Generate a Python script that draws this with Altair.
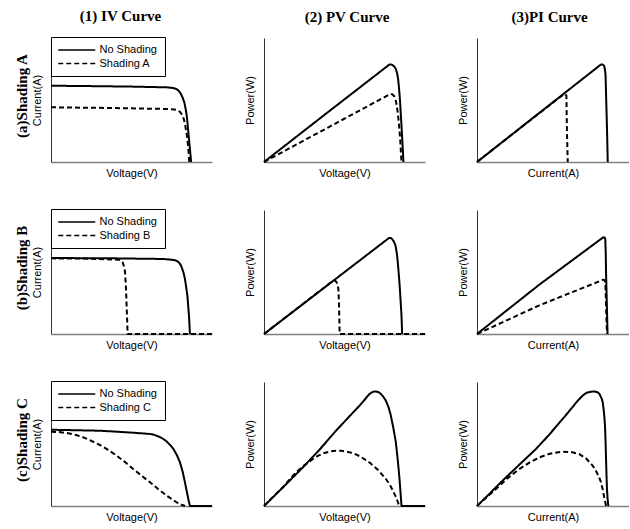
import altair as alt
import pandas as pd

# ---- data (x: 0-100 of panel width, y: 0-100 of panel height) ----
IV_A_NO = [(0, 61.5), (18, 61.3), (50, 60.8), (71.9, 60.2), (75, 59.8), (77, 59.3), (78.5, 58.4),
           (79.7, 56.8), (80.7, 54.8), (81.8, 51.8), (82.8, 48.1), (83.6, 43), (84.3, 37.4),
           (84.8, 31), (85.3, 24), (85.8, 17), (86.3, 10.5), (86.7, 5), (87, 0)]
IV_A_SH = [(0, 44.1), (40, 43.5), (73.9, 42.7), (76.5, 42.4), (78, 42), (79.1, 41.4), (80.1, 40.4),
           (80.9, 39.1), (81.8, 37.4), (82.6, 34), (83.4, 29.3), (84.1, 24), (84.7, 18.5),
           (85.1, 13), (85.5, 7.8), (85.9, 0)]
PV_A_NO = [(0, 0), (40, 40.5), (77.8, 78.5), (78.8, 78.7), (79.8, 78.2), (80.9, 77), (81.9, 75),
           (82.7, 71.5), (83.3, 66.9), (83.9, 59), (84.4, 50.8), (84.9, 40), (85.4, 29.3),
           (85.8, 20), (86.2, 10.5), (86.6, 0)]
PV_A_SH = [(0, 0), (40, 28), (78.4, 54.8), (79.7, 54.6), (80.9, 53), (81.8, 49.8), (82.5, 45.4),
           (83, 40.5), (83.5, 34.7), (84.1, 26.5), (84.6, 18.5), (85, 9), (85.4, 0)]
PI_A_NO = [(0, 0), (40, 38.6), (81.4, 78.5), (82.6, 78.6), (83.6, 77.7), (84.2, 74.5), (84.6, 69.6),
           (84.9, 55), (85.3, 37.4), (85.7, 18), (86, 0)]
PI_A_SH = [(0, 0), (30, 28.9), (57.2, 54.8), (58.2, 54.6), (58.8, 53.5), (58.9, 46), (59, 37.4),
           (59.3, 18), (59.7, 0)]

IV_B_NO = [(0, 61.3), (40, 61), (69.8, 60.5), (75, 59.9), (77, 59.5), (78.5, 58.7), (79.7, 57.3),
           (80.5, 55.8), (81.2, 53.8), (82.3, 49.5), (83.2, 44.4), (84, 37.5), (84.7, 30.9),
           (85.2, 23), (85.7, 14.8), (86, 7.5), (86.3, 0)]
IV_B_SH = [(0, 61), (20, 60.8), (41.8, 59.9), (42.8, 59.6), (43.7, 58.9), (44.5, 57.8), (45.2, 55),
           (45.7, 52.5), (46, 49.7), (46.3, 43), (46.6, 36.3), (46.9, 25), (47.2, 14.8),
           (47.4, 7), (47.6, 0), (100, 0)]
PV_B_NO = [(0, 0), (40, 39.9), (77.6, 77.4), (78.6, 77.5), (79.6, 76.6), (80.7, 74.5), (81.7, 71.2),
           (82.5, 65), (83.1, 57.8), (83.8, 47), (84.4, 36.3), (84.9, 25.5), (85.4, 14.8),
           (85.8, 0)]
PV_B_SH = [(0, 0), (43.2, 43.3), (44.2, 42.9), (45.1, 41.7), (45.7, 39.5), (46.2, 36.3),
           (46.4, 30), (46.6, 22.8), (46.8, 11), (47, 0), (100, 0)]
PI_B_NO = [(0, 0), (41, 39.8), (83.1, 78), (83.9, 77.9), (84.4, 76.6), (84.7, 65), (84.9, 49.7),
           (85.2, 35), (85.5, 20.2), (85.9, 0)]
PI_B_SH = [(0, 0), (41, 23.1), (83.1, 43.8), (83.9, 43.4), (84.4, 41.7), (84.7, 32), (84.9, 22.8),
           (85.2, 11), (85.5, 0)]

IV_C_NO = [(0, 61.5), (30.6, 60.7), (50, 59.2), (61.5, 58.1), (64, 57.4), (66, 56.5), (68, 55.4),
           (69.8, 54), (71.5, 52.4), (73, 50.5), (74.6, 48.4), (76, 46), (78.2, 41),
           (80.1, 35.2), (81.8, 27.5), (83.2, 19.1), (84.3, 12), (85.3, 5.6), (86.3, 0), (100, 0)]
IV_C_SH = [(0, 59.9), (5, 59.6), (9.7, 58.9), (15, 57.5), (20.1, 55.4), (25, 52.6), (30.4, 49.2),
           (35.5, 45.2), (40.8, 40.6), (46, 35.4), (51.1, 29.8), (56.3, 24.4), (61.5, 19.1),
           (66.7, 13.5), (71.9, 8.3), (75.2, 5.4), (78, 3), (80.8, 1.2), (83.2, 0)]
PV_C_NO = [(0, 0), (12, 15.3), (24.1, 31.1), (34.5, 45.4), (44.7, 60.7), (52.5, 71.5), (59.3, 80.9),
           (63, 86.5), (65, 89.6), (66.5, 91.3), (68, 92.2), (69.5, 92.4), (71, 91.9), (72.4, 90.6),
           (74, 88.3), (75.7, 84.9), (77.4, 79.5), (78.8, 72.8), (80.4, 62.5), (81.9, 51.4),
           (83, 38), (84, 24.4), (84.8, 11), (85.4, 0), (100, 0)]
PV_C_SH = [(0, 0), (6, 7.9), (12, 15.5), (16, 21.6), (20, 27.2), (25, 32.8), (30.4, 37.9),
           (34, 40.8), (37.5, 42.8), (41, 44), (44.7, 44.6), (48, 44.5), (51.5, 43.8), (55.1, 42.7),
           (60, 39.8), (65.4, 35.2), (70.5, 29.5), (75.7, 21.8), (78, 17.5), (80, 12.5),
           (82.2, 6.5), (84, 0)]
PI_C_NO = [(0, 0), (8, 9.6), (16.8, 20.4), (28, 33.5), (38.8, 46), (47.5, 57.5), (56.3, 70.2),
           (60, 75.5), (63, 80), (66.2, 84.8), (69.5, 89), (72, 91.3), (75, 92.2), (77.4, 92.3),
           (79.4, 91.7), (80.6, 90.3), (81.5, 88), (82.2, 86), (82.7, 83.6), (83.3, 78),
           (83.8, 72), (84.2, 64.8), (84.6, 51), (84.9, 37.9), (85.2, 25), (85.5, 13.7),
           (85.9, 6), (86.4, 0)]
PI_C_SH = [(0, 0), (6, 6.7), (12.5, 13.7), (20, 22.3), (27.8, 29.8), (34.5, 35), (41, 39.2),
           (48, 42.2), (56.3, 43.8), (62, 43.5), (67.3, 41.9), (71.8, 38.3), (76.1, 32.5),
           (78, 29), (79.5, 25.3), (80.7, 22), (81.6, 19.1), (82.6, 13.8), (83.3, 9.5),
           (83.8, 6.5), (84.4, 3), (84.9, 0)]

ROW_LABELS = ["(a)Shading A", "(b)Shading B", "(c)Shading C"]
SHADE_NAMES = ["Shading A", "Shading B", "Shading C"]
NO_SHADE = "No Shading"
COL_TITLES = ["(1) IV Curve", "(2) PV Curve", "(3)PI Curve"]
X_TITLES = ["Voltage(V)", "Voltage(V)", "Current(A)"]
Y_TITLES = ["Current(A)", "Power(W)", "Power(W)"]

CURVES = [
    [(IV_A_NO, IV_A_SH), (PV_A_NO, PV_A_SH), (PI_A_NO, PI_A_SH)],
    [(IV_B_NO, IV_B_SH), (PV_B_NO, PV_B_SH), (PI_B_NO, PI_B_SH)],
    [(IV_C_NO, IV_C_SH), (PV_C_NO, PV_C_SH), (PI_C_NO, PI_C_SH)],
]

WIDTHS = [161, 161, 152]
HEIGHT = 124
TITLE_DX = [-11, 2.5, -3.5]

SERIF = "Liberation Serif"
SANS = "Liberation Sans"


def panel(r, c):
    no, sh = CURVES[r][c]
    name = SHADE_NAMES[r]
    rows = []
    for i, (x, y) in enumerate(no):
        rows.append({"x": x, "y": y, "s": NO_SHADE, "o": i})
    for i, (x, y) in enumerate(sh):
        rows.append({"x": x, "y": y, "s": name, "o": i})
    df = pd.DataFrame(rows)

    if c == 0:
        legend = alt.Legend(
            title=None, orient="none", legendX=0, legendY=-1,
            strokeColor="black", fillColor="white", padding=7.5,
            symbolType="M-4.11,0H4.11", symbolSize=81, symbolStrokeWidth=1.5,
            symbolStrokeColor="black", symbolOffset=12.75,
            labelFont=SANS, labelFontSize=11, labelColor="black",
            rowPadding=1.5, labelOffset=17.25,
        )
    else:
        legend = None

    line = alt.Chart(df).mark_line(
        color="black", strokeWidth=2, interpolate="linear", strokeCap="butt", strokeJoin="round"
    ).encode(
        x=alt.X("x:Q", scale=alt.Scale(domain=[0, 100], nice=False, zero=True),
                axis=alt.Axis(title=X_TITLES[c], titlePadding=5)),
        y=alt.Y("y:Q", scale=alt.Scale(domain=[0, 100], nice=False, zero=True),
                axis=alt.Axis(title=Y_TITLES[c], titlePadding=9)),
        strokeDash=alt.StrokeDash(
            "s:N",
            scale=alt.Scale(domain=[NO_SHADE, name], range=[[1, 0], [5, 3]]),
            legend=legend,
        ),
        order="o:Q",
    )
    layers = [line]
    if c == 0:
        lab = alt.Chart(pd.DataFrame({"t": [ROW_LABELS[r]]})).mark_text(
            angle=270, font=SERIF, fontSize=15, fontWeight="bold",
            align="center", baseline="middle", color="black",
        ).encode(text="t:N", x=alt.value(-29.5), y=alt.value(HEIGHT / 2 - 4))
        layers.append(lab)
    ch = alt.layer(*layers)
    props = {"width": WIDTHS[c], "height": HEIGHT}
    if r == 0:
        props["title"] = alt.TitleParams(
            COL_TITLES[c], font=SERIF, fontSize=15, fontWeight="bold", color="black",
            dx=TITLE_DX[c], offset=-2, frame="group", baseline="bottom",
        )
    return ch.properties(**props)


panels = [panel(r, c) for r in range(3) for c in range(3)]

chart = alt.concat(
    *panels, columns=3, spacing={"row": 48, "column": 52}, bounds="flush"
).resolve_scale(
    x="independent", y="independent", strokeDash="independent"
).resolve_legend(
    strokeDash="independent"
).configure(
    padding={"left": 14, "top": 8, "right": 0, "bottom": 5},
    background="white",
).configure_view(
    stroke=None
).configure_axis(
    ticks=False, labels=False, grid=False,
    titleFont=SANS, titleFontSize=11, titleFontWeight="normal", titleColor="black",
).configure_axisX(
    domainColor="#808080", domainWidth=1.5
).configure_axisY(
    domainColor="#333333", domainWidth=1
)

chart.save("out.html", embed_options={"renderer": "svg", "actions": False})
